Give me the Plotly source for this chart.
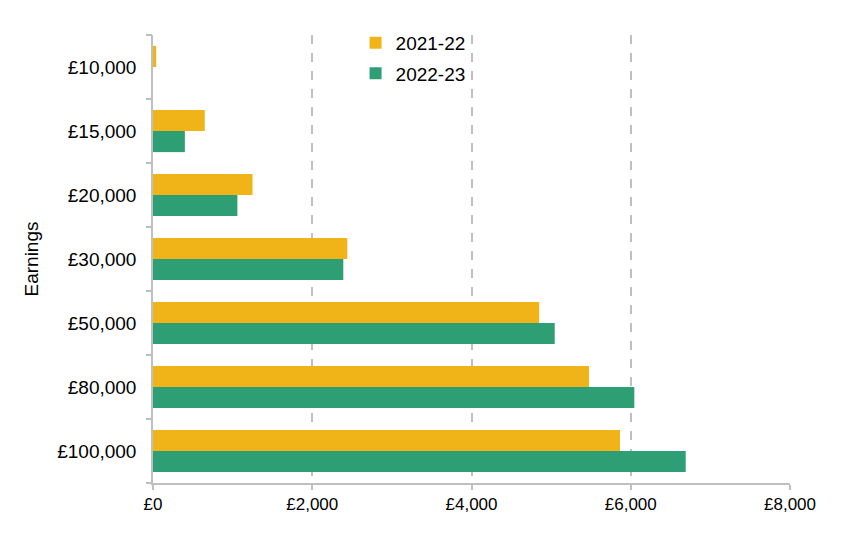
import plotly.graph_objects as go

categories = ["£10,000", "£15,000", "£20,000", "£30,000", "£50,000", "£80,000", "£100,000"]
series_2021 = [40, 650, 1250, 2440, 4850, 5475, 5865]
series_2022 = [0, 400, 1060, 2390, 5045, 6045, 6690]
x_tickvals = [0, 2000, 4000, 6000, 8000]
x_ticktext = ["£0", "£2,000", "£4,000", "£6,000", "£8,000"]

YELLOW = "#F0B418"
GREEN = "#2E9E74"
AXIS = "#BFBFBF"
FONT = "Liberation Sans, Arial, sans-serif"

fig = go.Figure()
fig.add_trace(go.Bar(y=categories, x=series_2021, orientation="h", name="2021-22",
                     legendgroup="a", marker=dict(color=YELLOW, line=dict(width=0))))
fig.add_trace(go.Bar(y=categories, x=series_2022, orientation="h", name="2022-23",
                     legendgroup="b", marker=dict(color=GREEN, line=dict(width=0))))

n = len(categories)
boundaries = [i - 0.5 for i in range(n + 1)]

fig.update_layout(
    width=848, height=545,
    margin=dict(l=153, r=58, t=35, b=62),
    paper_bgcolor="white", plot_bgcolor="white",
    barmode="group", bargap=0.34, bargroupgap=0,
    font=dict(family=FONT, size=19, color="#000000"),
    showlegend=True,
    legend=dict(x=0.318, y=1.025, xanchor="left", yanchor="top",
                font=dict(size=19), itemwidth=30, traceorder="grouped",
                tracegroupgap=3, bgcolor="rgba(0,0,0,0)"),
    xaxis=dict(range=[0, 8000], tickvals=x_tickvals, ticktext=x_ticktext,
               showgrid=True, gridcolor=AXIS, griddash="dash", gridwidth=1.5,
               showline=True, linecolor=AXIS, linewidth=1.5,
               ticks="outside", ticklen=5, tickcolor=AXIS, tickwidth=1.5,
               zeroline=False, tickfont=dict(size=17)),
    yaxis=dict(type="category", categoryorder="array", categoryarray=categories,
               range=[n - 0.5, -0.5], showgrid=False, showline=True,
               linecolor=AXIS, linewidth=1.5, ticks="", ticklabelstandoff=11,
               title=dict(text="Earnings", standoff=14, font=dict(size=19)),
               tickfont=dict(size=19)),
    yaxis2=dict(overlaying="y", side="left", range=[n - 0.5, -0.5],
                tickvals=boundaries, showticklabels=False, ticks="outside",
                ticklen=6, tickcolor=AXIS, tickwidth=1.5, showgrid=False,
                zeroline=False, showline=False),
)
fig.add_trace(go.Scatter(x=[None], y=[None], yaxis="y2", showlegend=False, hoverinfo="skip"))

fig.write_html("out.html")
